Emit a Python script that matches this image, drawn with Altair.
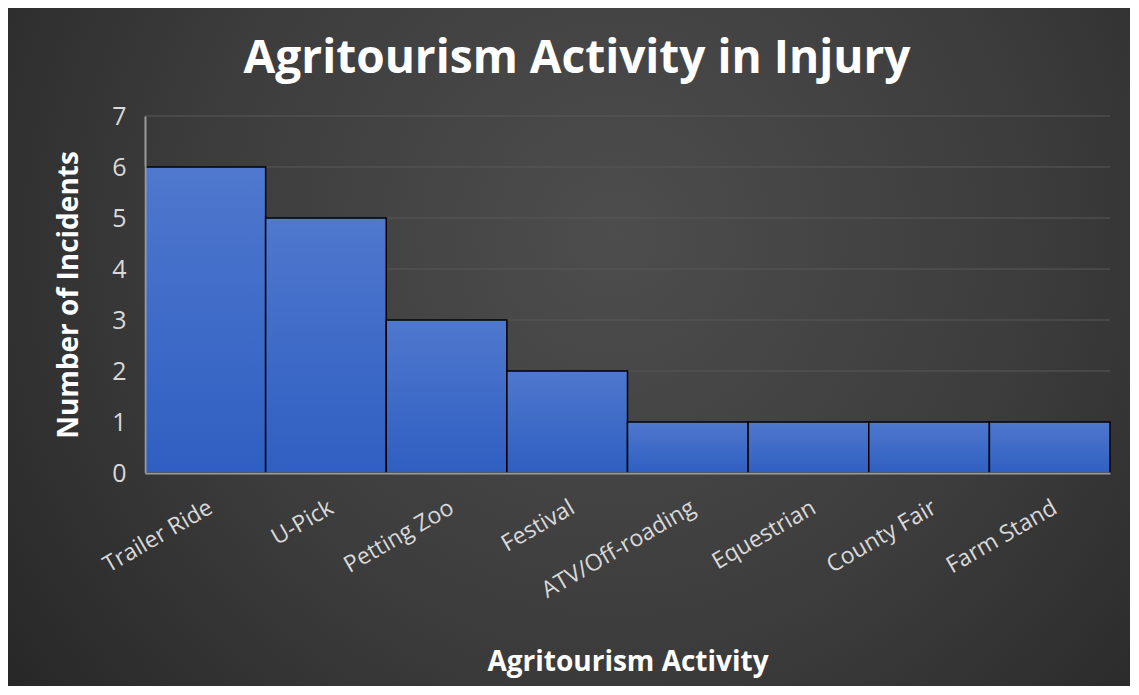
import altair as alt
import pandas as pd

title_text = "Agritourism Activity in Injury"
activities = ["Trailer Ride", "U-Pick", "Petting Zoo", "Festival",
              "ATV/Off-roading", "Equestrian", "County Fair", "Farm Stand"]
incidents = [6, 5, 3, 2, 1, 1, 1, 1]
grid_values = [1, 2, 3, 4, 5, 6, 7]
y_ticks = [0, 1, 2, 3, 4, 5, 6, 7]

df = pd.DataFrame({"Activity": activities, "Incidents": incidents})
grid_df = pd.DataFrame({"Incidents": grid_values})
title_df = pd.DataFrame({"t": [title_text]})

W, H = 965, 357
LEFT, TOP = 137, 108
TOTAL_W, TOTAL_H = 1122, 678

bg = alt.Chart(pd.DataFrame({"a": [0]})).mark_rect(
    color={
        "gradient": "radial",
        "x1": 0.54, "y1": 0.40, "r1": 0.0,
        "x2": 0.54, "y2": 0.40, "r2": 0.75,
        "stops": [
            {"offset": 0, "color": "#4d4d4d"},
            {"offset": 0.5, "color": "#3c3c3c"},
            {"offset": 1, "color": "#222222"},
        ],
    }
).encode(
    x=alt.value(-LEFT), x2=alt.value(TOTAL_W - LEFT),
    y=alt.value(-TOP), y2=alt.value(TOTAL_H - TOP),
)

title = alt.Chart(title_df).mark_text(
    font="Open Sans", fontSize=46, fontWeight="bold", color="#ffffff",
    align="center", baseline="middle",
).encode(text="t:N", x=alt.value(577 - 145), y=alt.value(59 - 116))

yscale = alt.Scale(domain=[0, 7])
yaxis = alt.Axis(title="Number of Incidents", values=y_ticks,
                 grid=False,
                 labelFontSize=25, labelFont="Open Sans",
                 labelColor="#d9d9d9", labelPadding=19, ticks=False,
                 domainColor="#9a9a9a", domainWidth=2,
                 titleFont="Open Sans", titleFontSize=28,
                 titleFontWeight="bold", titleColor="#ffffff",
                 titleBaseline="middle", titleX=-76, titleY=H / 2,
                 titleAngle=-90, zindex=1)

grid = alt.Chart(grid_df).mark_rule(color="#585858", strokeWidth=1).encode(
    y=alt.Y("Incidents:Q", scale=yscale, axis=yaxis),
    x=alt.value(0), x2=alt.value(W),
)

bars = alt.Chart(df).mark_bar(
    color={
        "gradient": "linear",
        "x1": 0, "y1": 0, "x2": 0, "y2": 1,
        "stops": [
            {"offset": 0, "color": "#4f78ce"},
            {"offset": 1, "color": "#2f5fc2"},
        ],
    },
    stroke="#000000",
    strokeWidth=1.5,
).encode(
    x=alt.X("Activity:N", sort=activities,
            scale=alt.Scale(paddingInner=0, paddingOuter=0),
            axis=alt.Axis(title="Agritourism Activity", labelAngle=-30,
                          labelAlign="right", labelBaseline="top",
                          labelPadding=23, labelFontSize=23,
                          labelFont="Open Sans", labelColor="#d9d9d9",
                          ticks=False, domainColor="#9a9a9a", domainWidth=2,
                          titleFont="Open Sans", titleFontSize=28,
                          titleFontWeight="bold", titleColor="#ffffff",
                          titleBaseline="middle", titleY=189, titleX=W / 2,
                          zindex=1)),
    y=alt.Y("Incidents:Q", scale=yscale, axis=yaxis),
)

chart = alt.layer(bg, grid, bars, title).properties(
    width=W, height=H,
    padding=0,
    background="#2a2a2a",
).configure_view(stroke=None)

chart.save("out.html", embed_options={"renderer": "svg", "actions": False})
